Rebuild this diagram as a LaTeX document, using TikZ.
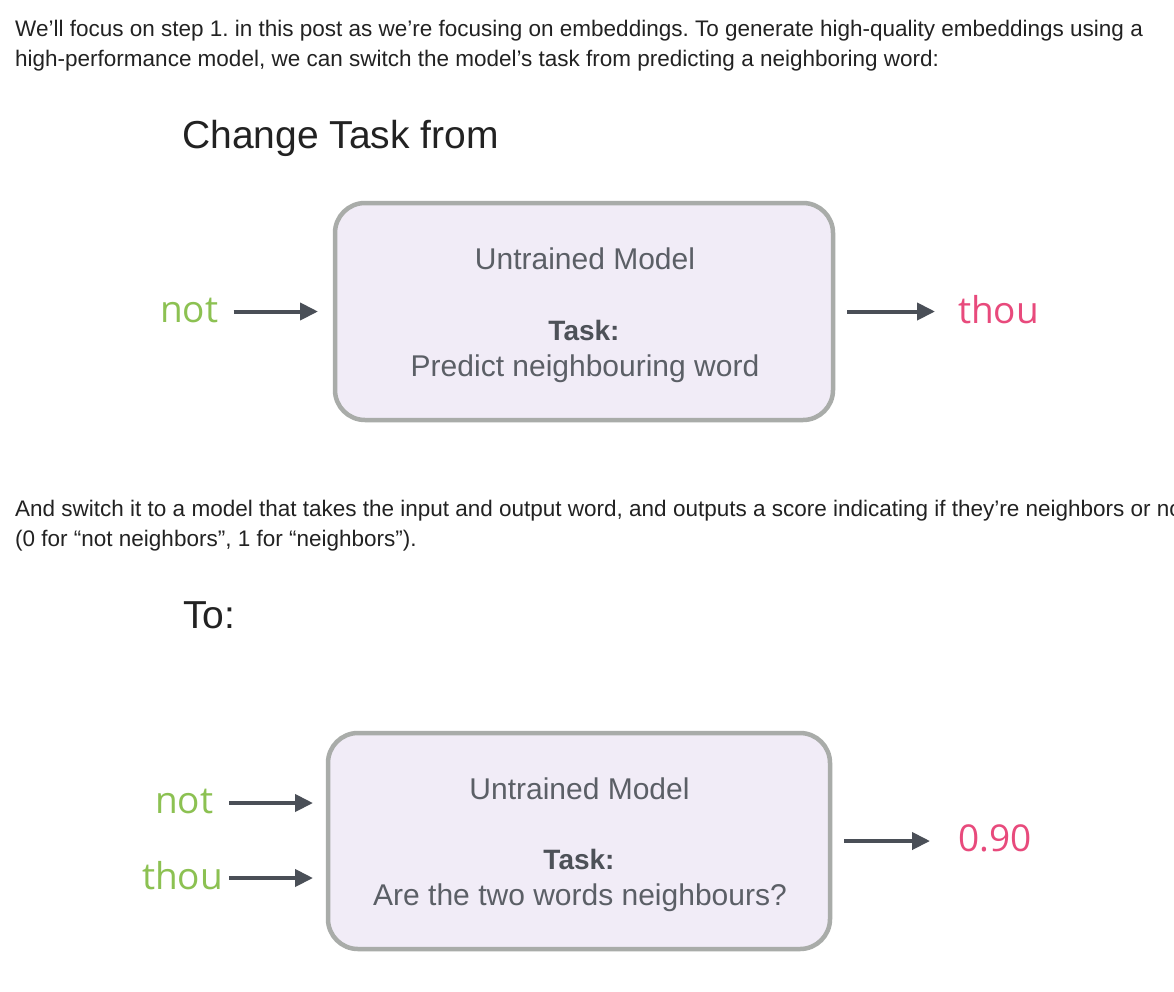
\documentclass[tikz,border=0pt]{standalone}
\usepackage{fontspec}
\setmainfont{Liberation Sans}
\newfontfamily\wordfont{Open Sans}
\usetikzlibrary{arrows.meta}
\frenchspacing
\definecolor{txt}{HTML}{222222}
\definecolor{lbl}{HTML}{5B5F66}
\definecolor{lbldark}{HTML}{4D5158}
\definecolor{boxfill}{HTML}{F1ECF7}
\definecolor{boxline}{HTML}{A9ACA9}
\definecolor{arrowc}{HTML}{4A4F57}
\definecolor{wgreen}{HTML}{8CC152}
\definecolor{wpink}{HTML}{E84A7C}
\tikzset{
  para/.style={inner sep=0, anchor=base west, text=txt, font=\fontsize{22.5}{26}\selectfont},
  head/.style={inner sep=0, anchor=base west, text=txt, font=\fontsize{39}{44}\selectfont},
  modelbox/.style={draw=boxline, fill=boxfill, line width=4.5pt, rounded corners=30pt,
    minimum width=498pt, minimum height=217pt, inner sep=0, outer sep=0},
  boxtitle/.style={inner sep=0, anchor=base, text=lbl, font=\fontsize{30}{34}\selectfont},
  boxtask/.style={inner sep=0, anchor=base, text=lbldark, font=\fontsize{28}{32}\selectfont\bfseries},
  inword/.style={inner sep=0, anchor=base west, text=wgreen, font=\wordfont\fontsize{37}{42}\selectfont},
  outword/.style={inner sep=0, anchor=base west, text=wpink, font=\wordfont\fontsize{37}{42}\selectfont},
  arr/.style={draw=arrowc, line width=4pt, -{Triangle[length=18pt,width=17pt]}}
}
\begin{document}
\begin{tikzpicture}[x=1pt,y=-1pt]
\useasboundingbox (0,0) rectangle (1174,991);
\clip (0,0) rectangle (1174,991);
\fill[white] (0,0) rectangle (1174,991);
% paragraphs
\node[para] (p1) at (15,36) {We’ll focus on step 1. in this post as we’re focusing on embeddings. To generate high-quality embeddings using a};
\node[para] (p2) at (15,66) {high-performance model, we can switch the model’s task from predicting a neighboring word:};
\node[para] (p3) at (15,516) {And switch it to a model that takes the input and output word, and outputs a score indicating if they’re neighbors or not};
\node[para] (p4) at (15,546) {(0 for “not neighbors”, 1 for “neighbors”).};
% headings
\node[head] (h1) at (182,148) {Change Task from};
\node[head] (h2) at (183,628) {To:};
% first model
\node[modelbox] (box1) at (584,311.5) {};
\node[boxtitle] (t1) at (585,269) {Untrained Model};
\node[boxtask] (k1) at (584,340) {Task:};
\node[boxtitle] (d1) at (585,376) {Predict neighbouring word};
\node[inword] (not1) at (160,322) {not};
\node[outword] (thou1) at (958,323) {thou};
\draw[arr] ([xshift=15pt]not1.east |- box1.west) -- ([xshift=-17pt]box1.west);
\draw[arr] ([xshift=14pt]box1.east) -- ([xshift=-23pt]thou1.west |- box1.east);
% second model
\node[modelbox, minimum width=502pt, minimum height=216pt] (box2) at (579,841) {};
\node[boxtitle] (t2) at (579.5,799) {Untrained Model};
\node[boxtask] (k2) at (579,869) {Task:};
\node[boxtitle] (d2) at (580,905) {Are the two words neighbours?};
\node[inword] (not2) at (155,813) {not};
\node[inword] (thou2) at (142,889) {thou};
\node[outword] (score) at (958,851) {0.90};
\draw[arr] ([xshift=-99pt, yshift=38pt]box2.west) -- ([xshift=-15pt, yshift=38pt]box2.west);
\draw[arr] ([xshift=-99pt, yshift=-37pt]box2.west) -- ([xshift=-15pt, yshift=-37pt]box2.west);
\draw[arr] ([xshift=14pt]box2.east) -- ([xshift=-28pt]score.west |- box2.east);
\end{tikzpicture}
\end{document}
